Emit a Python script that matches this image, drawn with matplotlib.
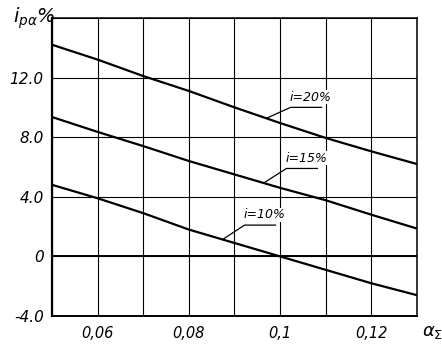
import numpy as np
import matplotlib
matplotlib.use("Agg")
import matplotlib.pyplot as plt

# alpha_sigma values and curves
alpha = [0.05, 0.06, 0.07, 0.08, 0.09, 0.10, 0.11, 0.12, 0.13]
i_20 = [14.2, 13.2, 12.1, 11.1, 10.0, 8.95, 7.95, 7.05, 6.2]
i_15 = [9.35, 8.35, 7.4, 6.4, 5.5, 4.6, 3.77, 2.8, 1.87]
i_10 = [4.8, 3.9, 2.9, 1.8, 0.9, 0.0, -0.9, -1.8, -2.6]

x_ticks = [0.06, 0.08, 0.10, 0.12]
x_labels = ["0,06", "0,08", "0,1", "0,12"]
y_ticks = [-4, 0, 4, 8, 12]
y_labels = ["-4.0", "0", "4.0", "8.0", "12.0"]

# curve labels: text, leader start on the curve (x), underline start (x, y)
labels = ["i=20%", "i=15%", "i=10%"]
label_anchor_x = [0.0970, 0.0964, 0.0874]
label_pos = [(0.1023, 10.0), (0.1014, 5.9), (0.0922, 2.1)]
underline_len = 0.0068

plt.rcParams["font.family"] = "DejaVu Sans"
plt.rcParams["mathtext.fontset"] = "dejavusans"

fig = plt.figure(figsize=(4.42, 3.45), dpi=100)
ax = fig.add_axes([0.118, 0.084, 0.825, 0.864])

for y in [i_20, i_15, i_10]:
    ax.plot(alpha, y, color="black", lw=1.6, solid_capstyle="butt", zorder=3)
ax.axhline(0, color="black", lw=1.4, zorder=3)

ax.set_xlim(0.05, 0.13)
ax.set_ylim(-4, 16)
ax.set_xticks(np.arange(0.05, 0.1301, 0.01), minor=True)
ax.set_yticks([-4, 0, 4, 8, 12, 16], minor=True)
ax.set_xticks(x_ticks)
ax.set_xticklabels(x_labels, fontstyle="italic", fontsize=10.5)
ax.set_yticks(y_ticks)
ax.set_yticklabels(y_labels, fontstyle="italic", fontsize=11)
ax.grid(which="both", color="black", lw=0.8)
ax.tick_params(which="both", length=0)
ax.tick_params(axis="y", pad=6)
ax.tick_params(axis="x", pad=7)
for s in ax.spines.values():
    s.set_linewidth(1.1)
ax.spines["left"].set_linewidth(1.6)
ax.spines["bottom"].set_linewidth(1.4)

for txt, a_x, (lx, ly), ys in zip(labels, label_anchor_x, label_pos, [i_20, i_15, i_10]):
    ay = np.interp(a_x, alpha, ys)
    ax.text(lx - 0.0002, ly + 0.25, txt, fontstyle="italic", fontsize=9, ha="left", va="bottom",
            zorder=4, bbox=dict(facecolor="white", edgecolor="none", pad=0.3))
    ax.plot([a_x, lx, lx + underline_len], [ay, ly, ly], color="black", lw=0.9, zorder=4)

fig.text(0.03, 0.985, r"$i_{p\alpha}$%", fontsize=14, fontstyle="italic", va="top", ha="left")
fig.text(0.955, 0.038, r"$\alpha_\Sigma$", fontsize=13, va="center", ha="left")

fig.savefig("out.png", dpi=100)
